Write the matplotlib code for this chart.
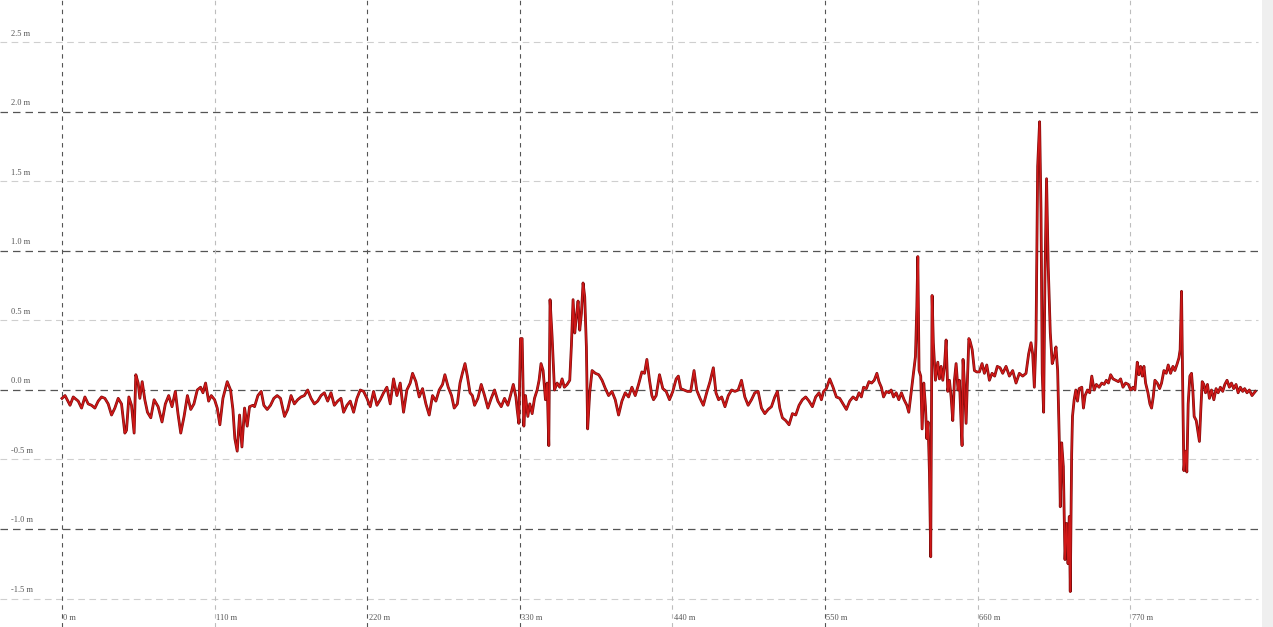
#!/usr/bin/env python3
"""
Elevation profile along a transect - residual height vs distance
"""

import matplotlib
matplotlib.use("Agg")
import matplotlib.pyplot as plt
from matplotlib.patches import Rectangle

# Profile data (distance in m, residual height in m)
distance_m = [
    0.0, 2.2, 5.8, 8.1, 11.7, 14.1, 16.5, 18.9, 21.3, 23.7, 26.1, 28.5, 30.9, 33.3, 35.7,
    38.1, 40.5, 42.9, 45.3, 46.5, 48.2, 50.1, 52.0, 53.2, 54.9, 56.1, 57.8, 59.7, 61.6, 64.0,
    66.4, 69.3, 72.1, 74.5, 76.9, 79.3, 81.7, 83.6, 85.6, 88.0, 90.4, 92.8, 95.1, 97.5, 99.9,
    101.6, 103.5, 105.7, 107.6, 110.0, 111.9, 113.8, 116.0, 119.1, 121.5, 123.2, 124.6, 126.3,
    128.0, 129.7, 131.6, 133.5, 135.2, 137.6,
    138.8, 141.2, 143.6, 145.5, 147.9, 150.3, 152.7, 155.1, 157.5, 160.4, 162.7, 165.1, 167.5,
    169.9, 172.3, 174.7, 177.1, 179.5, 181.9, 184.3, 186.7, 189.1, 191.5, 193.9, 196.3, 198.7,
    201.1, 203.0, 205.4, 207.8, 210.2, 212.6, 215.0, 217.4, 219.8, 222.2, 224.6, 227.0, 229.4,
    231.8, 234.2, 236.6, 239.0, 241.4, 243.8, 246.2, 248.6, 251.0, 252.7, 255.1, 257.5, 259.9,
    262.3, 264.7, 267.1, 269.5, 271.9, 274.3, 276.0, 278.4, 280.8, 282.7,
    285.0, 286.9, 288.6, 290.5, 292.2, 294.1, 295.8, 297.4, 299.8, 302.2, 304.6, 307.0, 309.4,
    311.8, 314.2, 316.6, 319.0, 321.4, 323.8, 325.3, 327.2, 328.1, 329.3, 330.5, 331.7, 332.9,
    334.1, 335.8, 337.2, 338.9, 340.6, 342.5, 343.9, 345.3, 346.8, 348.5, 349.7, 350.9, 351.8,
    353.3, 355.0, 356.9, 358.8, 360.5, 362.1, 364.1, 366.0, 367.2, 368.4, 369.6, 370.8, 372.0,
    373.2, 374.4, 375.6, 376.8, 378.0, 378.9, 380.4, 382.1, 384.5, 386.9, 389.3, 391.7, 394.0,
    396.4, 398.8, 401.2, 403.6, 406.0, 408.4, 410.8, 413.2, 415.6, 418.0, 419.9, 421.6, 423.5,
    425.2, 426.4,
    428.3, 430.7, 433.1, 435.5, 437.9, 440.3, 442.7, 444.3, 446.0, 448.4, 450.8, 453.2, 455.6,
    457.5, 459.9, 462.3, 464.7, 467.1, 469.5, 471.4, 473.3, 475.5, 477.9, 480.3, 482.7, 485.1,
    487.4, 489.8, 492.2, 494.6, 497.0, 499.4, 501.8, 504.2, 506.6, 509.0, 511.4, 513.8, 515.7,
    517.4, 519.3, 521.7, 524.1, 526.5, 528.9, 531.3, 533.7, 536.1, 538.5, 540.9, 543.3, 545.7,
    547.4, 549.0, 551.0, 553.4, 555.8, 558.2, 560.6, 563.0, 565.4, 567.8, 570.2,
    572.6, 574.5, 576.2, 577.8, 579.8, 581.7, 583.6, 585.5, 587.4, 588.9, 590.6, 592.2, 594.2,
    596.1, 597.7, 599.4, 601.3, 603.2, 605.1, 607.0, 609.0, 610.4, 612.1, 613.8, 615.2, 616.2,
    616.9, 617.8, 619.0, 620.0, 621.2, 622.4, 623.4, 624.3, 625.3, 626.2, 627.2, 628.1, 629.6,
    631.3, 632.5, 633.7, 634.9, 636.1, 637.3, 638.5, 639.7, 640.9, 642.1, 643.3, 644.5, 645.9,
    646.9, 648.1, 648.8, 649.5, 650.5, 651.7, 652.7, 653.7, 654.6, 656.1, 657.7, 659.4, 661.3,
    663.2, 664.9, 666.6, 668.5, 670.4, 672.3, 674.2, 676.2, 678.1,
    680.5, 682.9, 685.3, 687.7, 690.1, 692.5, 694.9, 696.8, 698.5, 699.7, 700.9, 702.1, 703.3,
    704.7, 705.7, 706.6, 707.6, 708.5, 709.7, 710.9, 712.4, 713.8, 715.3, 716.5, 717.7, 718.9,
    719.6, 720.6, 721.8, 723.0, 724.2, 725.2, 726.1, 726.8, 727.8,
    728.4, 729.6, 730.8, 732.0, 733.2, 735.1, 736.3, 737.5, 739.2, 740.8, 742.3, 744.0, 745.6,
    747.6, 749.5, 751.2, 752.8, 754.3, 755.9, 757.6, 759.5, 761.5, 763.1, 764.8, 766.7, 768.7,
    770.3, 772.0, 773.4, 775.1, 776.3, 777.5, 778.7, 779.9, 781.1, 782.8, 784.2, 785.4, 786.6,
    787.8, 789.5, 791.2, 792.6, 794.3, 796.0, 797.4, 799.1, 800.8, 802.2, 803.9, 805.1, 806.0,
    807.0, 808.0, 808.7, 809.9, 810.8, 811.8, 813.0, 814.2, 815.2, 816.1, 817.6, 818.7, 819.9,
    820.9, 821.9, 823.1, 824.3, 825.7, 827.1, 828.6, 830.3, 831.9, 833.4, 835.0, 836.7, 838.2,
    839.8, 841.5, 843.0, 844.6, 846.3, 847.8, 849.4, 851.1, 852.5, 854.2, 855.9, 857.8, 860.2,
]

height_m = [
    -0.06, -0.04, -0.11, -0.05, -0.08, -0.13, -0.05, -0.10, -0.11, -0.13, -0.08, -0.05, -0.06, -0.10, -0.18,
    -0.13, -0.06, -0.10, -0.31, -0.29, -0.05, -0.11, -0.31, 0.11, 0.05, -0.06, 0.06, -0.07, -0.16, -0.20,
    -0.07, -0.12, -0.23, -0.10, -0.04, -0.12, -0.01, -0.17, -0.31, -0.19, -0.04, -0.14, -0.10, 0.00, 0.02,
    -0.02, 0.05, -0.08, -0.04, -0.07, -0.13, -0.25, -0.06, 0.06, 0.00, -0.14, -0.35, -0.44,
    -0.18, -0.41, -0.13, -0.26, -0.12, -0.11,
    -0.12, -0.04, -0.01, -0.11, -0.14, -0.11, -0.06, -0.04, -0.06, -0.19, -0.14, -0.04, -0.10,
    -0.07, -0.05, -0.04, 0.00, -0.06, -0.10, -0.08, -0.04, -0.02, -0.08, -0.02, -0.11, -0.08,
    -0.06, -0.16, -0.11, -0.08, -0.16, -0.06, 0.00, -0.01, -0.06, -0.12, -0.01, -0.11, -0.07,
    -0.02, 0.02, -0.10, 0.08, -0.04, 0.05, -0.16, 0.00, 0.05, 0.12, 0.06, -0.05, 0.01,
    -0.10, -0.18, -0.04, -0.08, 0.00, 0.04, 0.11, 0.02, -0.04, -0.13,
    -0.10, 0.05, 0.12, 0.19, 0.10, -0.02, -0.04, -0.11, -0.06, 0.04, -0.04, -0.13, -0.06,
    0.00, -0.08, -0.12, -0.06, -0.11, -0.02, 0.04, -0.05, -0.14, -0.24, 0.37, 0.37, -0.26,
    -0.04, -0.19, -0.10, -0.17, -0.06, 0.00, 0.07, 0.19, 0.14, -0.07, 0.05, -0.40, 0.65,
    0.38, 0.00, 0.05, 0.02, 0.08, 0.02, 0.04, 0.07, 0.32, 0.65, 0.41, 0.53, 0.64,
    0.43, 0.55, 0.77, 0.67, 0.31, -0.28, -0.02, 0.14, 0.12, 0.11, 0.07, 0.01, -0.04,
    -0.01, -0.07, -0.18, -0.08, -0.02, -0.05, 0.02, -0.04, 0.04, 0.13, 0.12, 0.22, 0.07,
    -0.04, -0.07,
    -0.04, 0.11, 0.01, -0.01, -0.07, -0.01, 0.08, 0.10, 0.01, 0.00, -0.01, -0.01, 0.14,
    0.00, -0.06, -0.11, -0.02, 0.06, 0.16, -0.02, -0.07, -0.05, -0.12, -0.04, 0.00, -0.01,
    0.00, 0.07, -0.05, -0.11, -0.07, -0.02, -0.01, -0.13, -0.17, -0.14, -0.12, -0.05, -0.01,
    -0.13, -0.20, -0.22, -0.25, -0.17, -0.18, -0.11, -0.07, -0.05, -0.08, -0.12, -0.05, -0.02,
    -0.07, -0.01, 0.01, 0.08, 0.02, -0.05, -0.06, -0.10, -0.14, -0.08, -0.05,
    -0.07, -0.02, -0.05, 0.02, 0.01, 0.06, 0.05, 0.07, 0.12, 0.06, 0.02, -0.05, -0.01,
    -0.02, 0.00, -0.05, -0.02, -0.07, -0.02, -0.07, -0.11, -0.16, -0.02, 0.12, 0.24, 0.60,
    0.96, 0.14, 0.10, -0.28, 0.05, -0.12, -0.35, -0.23, -0.60, -1.20, 0.68, 0.34, 0.07,
    0.20, 0.08, 0.17, 0.07, 0.17, 0.36, -0.01, 0.07, -0.05, -0.22, 0.07, 0.19, 0.00,
    0.07, -0.24, -0.40, 0.22, 0.05, -0.24, 0.08, 0.37, 0.35, 0.29, 0.14, 0.13, 0.13,
    0.19, 0.12, 0.18, 0.07, 0.12, 0.10, 0.17, 0.16, 0.12,
    0.17, 0.10, 0.14, 0.05, 0.12, 0.10, 0.12, 0.26, 0.34, 0.26, 0.02, 0.36, 1.61,
    1.93, 1.29, 0.12, -0.16, 0.77, 1.52, 0.89, 0.41, 0.19, 0.24, 0.31, 0.14, -0.37,
    -0.84, -0.38, -0.55, -1.22, -0.96, -1.25, -0.91, -1.45, -0.46,
    -0.19, -0.07, 0.00, -0.08, 0.01, 0.02, -0.13, -0.04, 0.00, -0.02, 0.10, 0.00, 0.04,
    0.02, 0.05, 0.04, 0.07, 0.05, 0.11, 0.08, 0.07, 0.06, 0.08, 0.02, 0.05, 0.04,
    0.00, 0.02, 0.00, 0.20, 0.11, 0.17, 0.10, 0.17, 0.05, -0.02, -0.10, -0.13, -0.05,
    0.07, 0.05, 0.01, 0.05, 0.14, 0.12, 0.18, 0.12, 0.17, 0.14, 0.19, 0.23, 0.29,
    0.71, -0.10, -0.58, -0.44, -0.59, -0.10, 0.10, 0.12, -0.01, -0.19, -0.22, -0.29, -0.37,
    -0.14, 0.06, 0.04, -0.02, 0.04, -0.06, 0.00, -0.07, 0.01, -0.02, 0.02, -0.01, 0.04,
    0.07, 0.02, 0.05, 0.01, 0.04, -0.02, 0.02, -0.01, 0.01, -0.02, 0.00, -0.04, -0.01,
]

# Axis ticks and labels
x_ticks = [0, 110, 220, 330, 440, 550, 660, 770]
x_tick_labels = ["0 m", "110 m", "220 m", "330 m", "440 m", "550 m", "660 m", "770 m"]
x_major = [0, 220, 330, 550]

y_ticks = [2.5, 2.0, 1.5, 1.0, 0.5, 0.0, -0.5, -1.0, -1.5]
y_tick_labels = ["2.5 m", "2.0 m", "1.5 m", "1.0 m", "0.5 m", "0.0 m", "-0.5 m", "-1.0 m", "-1.5 m"]
y_major = [2.0, 1.0, 0.0, -1.0]

DARK = "#555555"
LIGHT = "#cfcfcf"
LINE_RED = "#d01818"
LINE_EDGE = "#7a0b0b"

W, H = 1273, 627
fig = plt.figure(figsize=(W / 100, H / 100), dpi=100)
fig.patch.set_facecolor("white")

# light strip along the right edge
fig.patches.append(Rectangle((1262 / W, 0), 1 - 1262 / W, 1, transform=fig.transFigure,
                             facecolor="#efefef", edgecolor="none", zorder=0))

ax = fig.add_axes([0, 0, 1262 / W, 1])
ax.set_facecolor("white")
for s in ax.spines.values():
    s.set_visible(False)
ax.set_xticks([])
ax.set_yticks([])

m_per_px = 110 / 152.6
ax.set_xlim(-62 * m_per_px, (1262 - 62) * m_per_px)
ax.set_ylim(-(627 - 390) / 139.0, 390 / 139.0)
x_right = (1258 - 62) * m_per_px

# horizontal grid
for yv in y_ticks:
    major = yv in y_major
    ax.plot([ax.get_xlim()[0], x_right], [yv, yv],
            color=DARK if major else LIGHT, lw=0.9 if major else 0.8,
            dashes=(6, 4), zorder=1)

# vertical grid
for xv in x_ticks:
    major = xv in x_major
    ax.axvline(xv, color=DARK if major else "#bdbdbd", lw=0.8,
               dashes=(4, 4), zorder=1)

# tick labels as text inside the plot area
for yv, lab in zip(y_ticks, y_tick_labels):
    ax.text(-37, yv + 0.035, lab, fontsize=6, color="#555555",
            family="Liberation Serif", ha="left", va="bottom")
for xv, lab in zip(x_ticks, x_tick_labels):
    ax.text(xv + 1.0, -1.64, lab, fontsize=6, color="#555555",
            family="Liberation Serif", ha="left", va="center")

# profile line (dark edge under red)
ax.plot(distance_m, height_m, color=LINE_EDGE, lw=2.0, zorder=3, solid_joinstyle="round")
ax.plot(distance_m, height_m, color=LINE_RED, lw=1.1, zorder=4, solid_joinstyle="round")

plt.savefig("out.png", dpi=100)
